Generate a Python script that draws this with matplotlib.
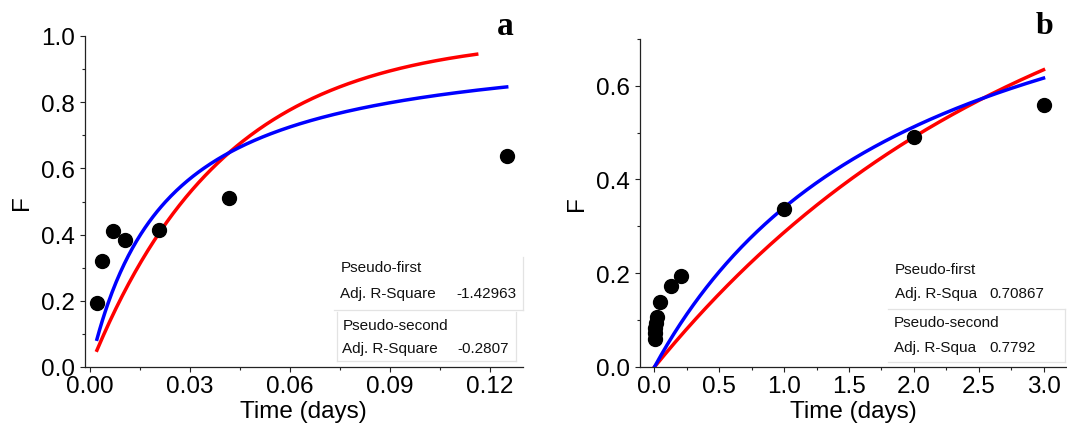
import numpy as np
import matplotlib
matplotlib.use("Agg")
import matplotlib.pyplot as plt
from matplotlib.lines import Line2D
from matplotlib.ticker import MultipleLocator, FormatStrFormatter

plt.rcParams['font.family'] = ['Liberation Sans', 'DejaVu Sans']

# ---- panel a: short-time release ----
time_a = [0.00208, 0.00347, 0.00694, 0.0104, 0.0208, 0.0417, 0.125]
frac_a = [0.193, 0.320, 0.410, 0.384, 0.413, 0.512, 0.636]
# fitted kinetic parameters (pseudo-first: Fe, k1 ; pseudo-second: Fe, k2)
pfo_a = (1.00, 25.0)
pso_a = (1.00, 44.0)
pfo_a_end = 0.116
stats_a = ["-1.42963", "-0.2807"]

# ---- panel b: long-time release ----
time_b = [0.00208, 0.00347, 0.00694, 0.0104, 0.0208, 0.0417, 0.125, 0.208, 1.0, 2.0, 3.0]
frac_b = [0.060, 0.072, 0.083, 0.094, 0.106, 0.139, 0.173, 0.195, 0.338, 0.491, 0.559]
pfo_b = (0.98, 0.347)
pso_b = (1.037, 0.4706)
stats_b = ["0.70867", "0.7792"]

W, H = 1067, 435
fig = plt.figure(figsize=(W / 100, H / 100), dpi=100)


def pfo(t, fe, k):
    return fe * (1 - np.exp(-k * t))


def pso(t, fe, k):
    return fe * fe * k * t / (1 + fe * k * t)


def fx(px):
    return px / W


def fy(py):
    return 1 - py / H


def style_axes(ax):
    for s in ("top", "right"):
        ax.spines[s].set_visible(False)
    for s in ("left", "bottom"):
        ax.spines[s].set_linewidth(0.9)
        ax.spines[s].set_color("#222222")
    ax.tick_params(which="major", direction="out", length=3.6, width=0.8,
                   labelsize=17.5, color="#222222")
    ax.tick_params(which="minor", direction="out", length=2.2, width=0.8,
                   color="#222222")
    ax.tick_params(axis="x", which="major", pad=2.5)
    ax.tick_params(axis="y", which="major", pad=3.6)
    ax.set_xlabel("Time (days)", fontsize=17.5, labelpad=2)
    ax.set_ylabel("F", fontsize=17.5, labelpad=6)


def hline(y, x0, x1):
    fig.add_artist(Line2D([fx(x0), fx(x1)], [fy(y), fy(y)], color="#e3e3e3", lw=0.9))


def vline(x, y0, y1):
    fig.add_artist(Line2D([fx(x), fx(x)], [fy(y0), fy(y1)], color="#e3e3e3", lw=0.9))


def ftext(px, py, s, ha="left"):
    fig.text(fx(px), fy(py), s, fontsize=11, ha=ha, va="center", color="#111111")


RED, BLUE = "#ff0000", "#0000ff"

# panel a
ax1 = fig.add_axes([fx(85), fy(368), fx(522.7) - fx(85), fy(37) - fy(368)])
t1 = np.linspace(time_a[0], pfo_a_end, 300)
t2 = np.linspace(time_a[0], time_a[-1], 300)
ax1.plot(t1, pfo(t1, *pfo_a), color=RED, lw=2.5, zorder=3)
ax1.plot(t2, pso(t2, *pso_a), color=BLUE, lw=2.5, zorder=3)
ax1.plot(time_a, frac_a, "o", color="black", ms=10, zorder=4, clip_on=False)
ax1.set_xlim(-0.0015, 0.1298)
ax1.set_ylim(0, 1.0)
ax1.xaxis.set_major_locator(MultipleLocator(0.03))
ax1.xaxis.set_minor_locator(MultipleLocator(0.015))
ax1.yaxis.set_major_locator(MultipleLocator(0.2))
ax1.yaxis.set_minor_locator(MultipleLocator(0.1))
ax1.xaxis.set_major_formatter(FormatStrFormatter("%.2f"))
ax1.yaxis.set_major_formatter(FormatStrFormatter("%.1f"))
style_axes(ax1)

# panel b
ax2 = fig.add_axes([fx(640.3), fy(368), fx(1067) - fx(640.3), fy(39.8) - fy(368)])
t3 = np.linspace(0, time_b[-1], 300)
ax2.plot(t3, pfo(t3, *pfo_b), color=RED, lw=2.5, zorder=3)
ax2.plot(t3, pso(t3, *pso_b), color=BLUE, lw=2.5, zorder=3)
ax2.plot(time_b, frac_b, "o", color="black", ms=10, zorder=4, clip_on=False)
ax2.set_xlim(-0.109, 3.181)
ax2.set_ylim(0, 0.7)
ax2.xaxis.set_major_locator(MultipleLocator(0.5))
ax2.xaxis.set_minor_locator(MultipleLocator(0.25))
ax2.yaxis.set_major_locator(MultipleLocator(0.2))
ax2.yaxis.set_minor_locator(MultipleLocator(0.1))
ax2.xaxis.set_major_formatter(FormatStrFormatter("%.1f"))
ax2.yaxis.set_major_formatter(FormatStrFormatter("%.1f"))
style_axes(ax2)

# panel letters
fig.text(fx(505.5), fy(35), "a", fontsize=24, fontweight="bold",
         family="Liberation Serif", ha="center", va="baseline")
fig.text(fx(1044), fy(34.5), "b", fontsize=23, fontweight="bold",
         family="Liberation Serif", ha="center", va="baseline")

# fit statistics tables, panel a
ftext(340.5, 268.5, "Pseudo-first")
ftext(340.5, 294, "Adj. R-Square")
ftext(516.3, 294, stats_a[0], ha="right")
hline(311, 334, 522.7)
vline(522.7, 258, 311)
ftext(342.5, 325.5, "Pseudo-second")
ftext(342.5, 349, "Adj. R-Square")
ftext(509.3, 349, stats_a[1], ha="right")
vline(337, 313, 362)
vline(516, 313, 362)
hline(362, 337, 516)

# fit statistics tables, panel b
ftext(895, 269.5, "Pseudo-first")
ftext(895, 294.5, "Adj. R-Squa")
ftext(989.5, 294.5, stats_b[0])
hline(310, 888, 1065)
ftext(893.5, 323, "Pseudo-second")
ftext(893.5, 348.3, "Adj. R-Squa")
ftext(989.5, 348.3, stats_b[1])
vline(1065, 310, 363)
hline(363, 888, 1065)

fig.savefig("out.png", dpi=100)
